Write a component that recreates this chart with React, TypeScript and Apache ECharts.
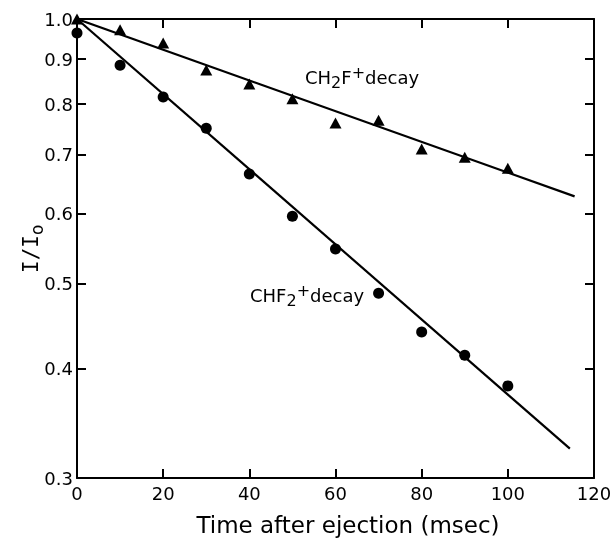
import React, { useEffect, useRef } from "react";
import * as echarts from "echarts";

const times = [0, 10, 20, 30, 40, 50, 60, 70, 80, 90, 100];
const ch2fDecay = [1.0, 0.972, 0.939, 0.875, 0.843, 0.811, 0.761, 0.767, 0.711, 0.696, 0.676];
const chf2Decay = [0.964, 0.886, 0.815, 0.751, 0.666, 0.596, 0.547, 0.487, 0.44, 0.414, 0.382];
const ch2fFitX = [0, 115.5];
const ch2fFitY = [1.0, 0.628];
const chf2FitX = [0, 114.4];
const chf2FitY = [1.0, 0.324];
const yTicks = [0.3, 0.4, 0.5, 0.6, 0.7, 0.8, 0.9, 1.0];

const INK = "#000";
const FONT = "DejaVu Sans";

function xAxisOpt(position: string, showLabels: boolean) {
  return {
    type: "value",
    min: 0,
    max: 120,
    interval: 20,
    position,
    axisLine: { show: true, onZero: false, lineStyle: { color: INK, width: 2 } },
    axisTick: { show: true, inside: true, length: 9, lineStyle: { color: INK, width: 2 } },
    axisLabel: { show: showLabels, fontFamily: FONT, fontSize: 18, color: INK, margin: 6 },
    splitLine: { show: false },
  };
}

function yAxisOpt(position: string, showLabels: boolean) {
  return {
    type: "log",
    min: 0.3,
    max: 1.0,
    position,
    axisLine: { show: true, onZero: false, lineStyle: { color: INK, width: 2 } },
    axisTick: { show: true, inside: true, length: 9, customValues: yTicks.slice(), lineStyle: { color: INK, width: 2 } },
    axisLabel: {
      show: showLabels,
      customValues: yTicks.slice(),
      fontFamily: FONT,
      fontSize: 18,
      color: INK,
      margin: 4,
      formatter: (v: number) => v.toFixed(1),
    },
    splitLine: { show: false },
  };
}

export default function App() {
  const ref = useRef<HTMLDivElement>(null);
  useEffect(() => {
    if (!ref.current) return;
    const chart = echarts.init(ref.current, null, { renderer: "svg" });
    const pair = (xs: number[], ys: number[]) => xs.map((x, i) => [x, ys[i]]);
    const labelRich = {
      m: { fontFamily: FONT, fontSize: 18, color: INK, lineHeight: 26, verticalAlign: "middle" },
      sub: { fontFamily: FONT, fontSize: 16, color: INK, lineHeight: 16, verticalAlign: "bottom" },
      sup: { fontFamily: FONT, fontSize: 16, color: INK, lineHeight: 16, verticalAlign: "top" },
    };
    chart.setOption({
      animation: false,
      grid: { left: 77, right: 21, top: 19, bottom: 62 },
      xAxis: [xAxisOpt("bottom", true), xAxisOpt("top", false)],
      yAxis: [yAxisOpt("left", true), yAxisOpt("right", false)],
      series: [
        {
          name: "CH2F+ fit",
          type: "line",
          data: pair(ch2fFitX, ch2fFitY),
          symbol: "none",
          lineStyle: { color: INK, width: 2.2 },
        },
        {
          name: "CHF2+ fit",
          type: "line",
          data: pair(chf2FitX, chf2FitY),
          symbol: "none",
          lineStyle: { color: INK, width: 2.2 },
        },
        {
          name: "CH2F+ decay",
          type: "scatter",
          data: pair(times, ch2fDecay),
          symbol: "triangle",
          symbolSize: [12, 11],
          itemStyle: { color: INK, opacity: 1 },
        },
        {
          name: "CHF2+ decay",
          type: "scatter",
          data: pair(times, chf2Decay),
          symbol: "circle",
          symbolSize: 11,
          itemStyle: { color: INK, opacity: 1 },
        },
      ],
      graphic: [
        {
          type: "text",
          left: 305,
          top: 64,
          style: { text: "{m|CH}{sub|2}{m|F}{sup|+}{m|decay}", rich: labelRich },
        },
        {
          type: "text",
          left: 250,
          top: 282,
          style: { text: "{m|CHF}{sub|2}{sup|+}{m|decay}", rich: labelRich },
        },
        {
          type: "text",
          x: 17,
          y: 273,
          rotation: Math.PI / 2,
          style: {
            text: "{m|I/I}{sub|o}",
            rich: {
              m: { fontFamily: "DejaVu Sans Mono", fontSize: 21, color: INK, lineHeight: 28, verticalAlign: "middle" },
              sub: { fontFamily: FONT, fontSize: 17, color: INK, lineHeight: 17, verticalAlign: "bottom" },
            },
          },
        },
        {
          type: "text",
          x: 348,
          y: 513,
          style: {
            text: "Time after ejection (msec)",
            fontFamily: FONT,
            fontSize: 23,
            fill: INK,
            align: "center",
          },
        },
      ],
    });
    return () => chart.dispose();
  }, []);
  return <div ref={ref} style={{ position: "fixed", left: 0, top: 0, width: 615, height: 540 }} />;
}
